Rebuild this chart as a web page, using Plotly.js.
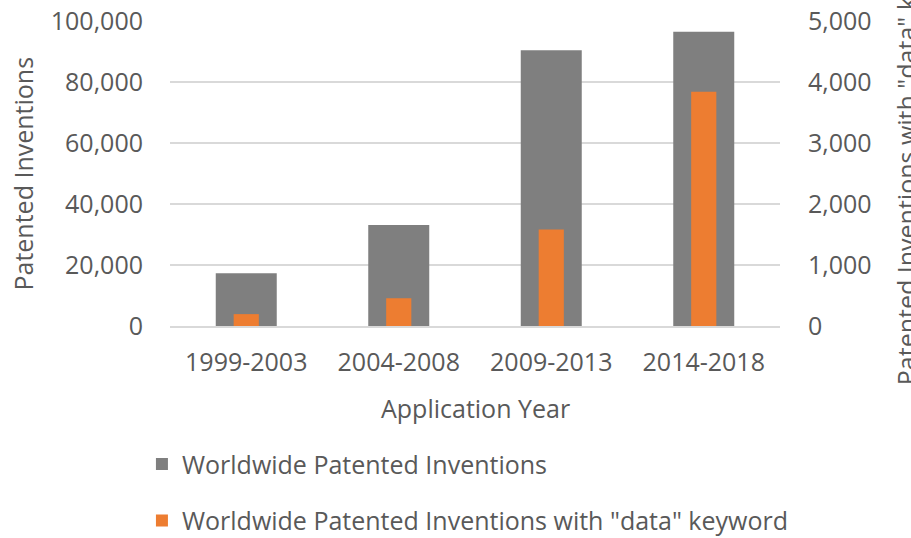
<!DOCTYPE html>
<html>
<head>
<meta charset="utf-8">
<script src="https://cdn.plot.ly/plotly-3.0.1.min.js"></script>
<style>html,body{margin:0;padding:0;background:#fff;}#chart{width:911px;height:538px;}</style>
</head>
<body>
<div id="chart"></div>
<script>
const categories = ["1999-2003", "2004-2008", "2009-2013", "2014-2018"];
const worldwide = [17300, 33100, 90400, 96500];
const withData = [195, 455, 1580, 3840];
const seriesNames = ["Worldwide Patented Inventions", "Worldwide Patented Inventions with \"data\" keyword"];
const leftTitle = "Patented Inventions";
const rightTitle = "Patented Inventions with \"data\" keyword";
const xTitle = "Application Year";

const FONT = "Open Sans, Noto Sans, sans-serif";
const TXT = "#595959";

const traces = [
  {type: "bar", x: categories, y: worldwide, name: seriesNames[0], yaxis: "y",
   marker: {color: "#7f7f7f"}, width: 0.4, legendgroup: "a", hoverinfo: "y"},
  {type: "bar", x: categories, y: withData, name: seriesNames[1], yaxis: "y2",
   marker: {color: "#ed7d31"}, width: 0.165, legendgroup: "b", hoverinfo: "y"}
];

const layout = {
  width: 911, height: 538,
  margin: {l: 170, r: 131, t: 21, b: 212, autoexpand: false},
  paper_bgcolor: "#fff", plot_bgcolor: "#fff",
  font: {family: FONT, size: 25, color: TXT},
  barmode: "overlay",
  showlegend: true,
  legend: {orientation: "v", x: -0.046, xanchor: "left", y: -0.378, yanchor: "top",
    traceorder: "grouped", tracegroupgap: 21, font: {size: 25, color: TXT, family: FONT},
    bgcolor: "rgba(0,0,0,0)"},
  xaxis: {type: "category", showgrid: false, showline: true, linecolor: "#d9d9d9", linewidth: 1.5,
    ticks: "", ticklabelstandoff: 13, tickfont: {size: 25, color: TXT}, automargin: false,
    zeroline: false},
  yaxis: {range: [0, 100000], dtick: 20000, tickformat: ",", showgrid: true, gridcolor: "#d9d9d9",
    gridwidth: 1.5, zeroline: false, showline: false, ticks: "", ticklabelstandoff: 26,
    tickfont: {size: 25, color: TXT}, automargin: false, fixedrange: true},
  yaxis2: {range: [0, 5000], dtick: 1000, tickformat: ",", overlaying: "y", side: "right",
    showgrid: false, zeroline: false, showline: false, ticks: "", ticklabelstandoff: 27,
    tickfont: {size: 25, color: TXT}, automargin: false, fixedrange: true},
  annotations: [
    {text: leftTitle, xref: "paper", yref: "paper", x: -0.2426, y: 0.5, xanchor: "center", yanchor: "middle",
     textangle: -90, showarrow: false, font: {size: 25, color: TXT, family: FONT}},
    {text: rightTitle, xref: "paper", yref: "paper", x: 1.2066, y: 0.583, xanchor: "center", yanchor: "middle",
     textangle: -90, showarrow: false, font: {size: 25, color: TXT, family: FONT}},
    {text: xTitle, xref: "paper", yref: "paper", x: 0.5, y: -0.2689, xanchor: "center", yanchor: "middle",
     showarrow: false, font: {size: 25, color: TXT, family: FONT}}
  ]
};

Plotly.newPlot("chart", traces, layout, {displayModeBar: false, staticPlot: true});
</script>
</body>
</html>
